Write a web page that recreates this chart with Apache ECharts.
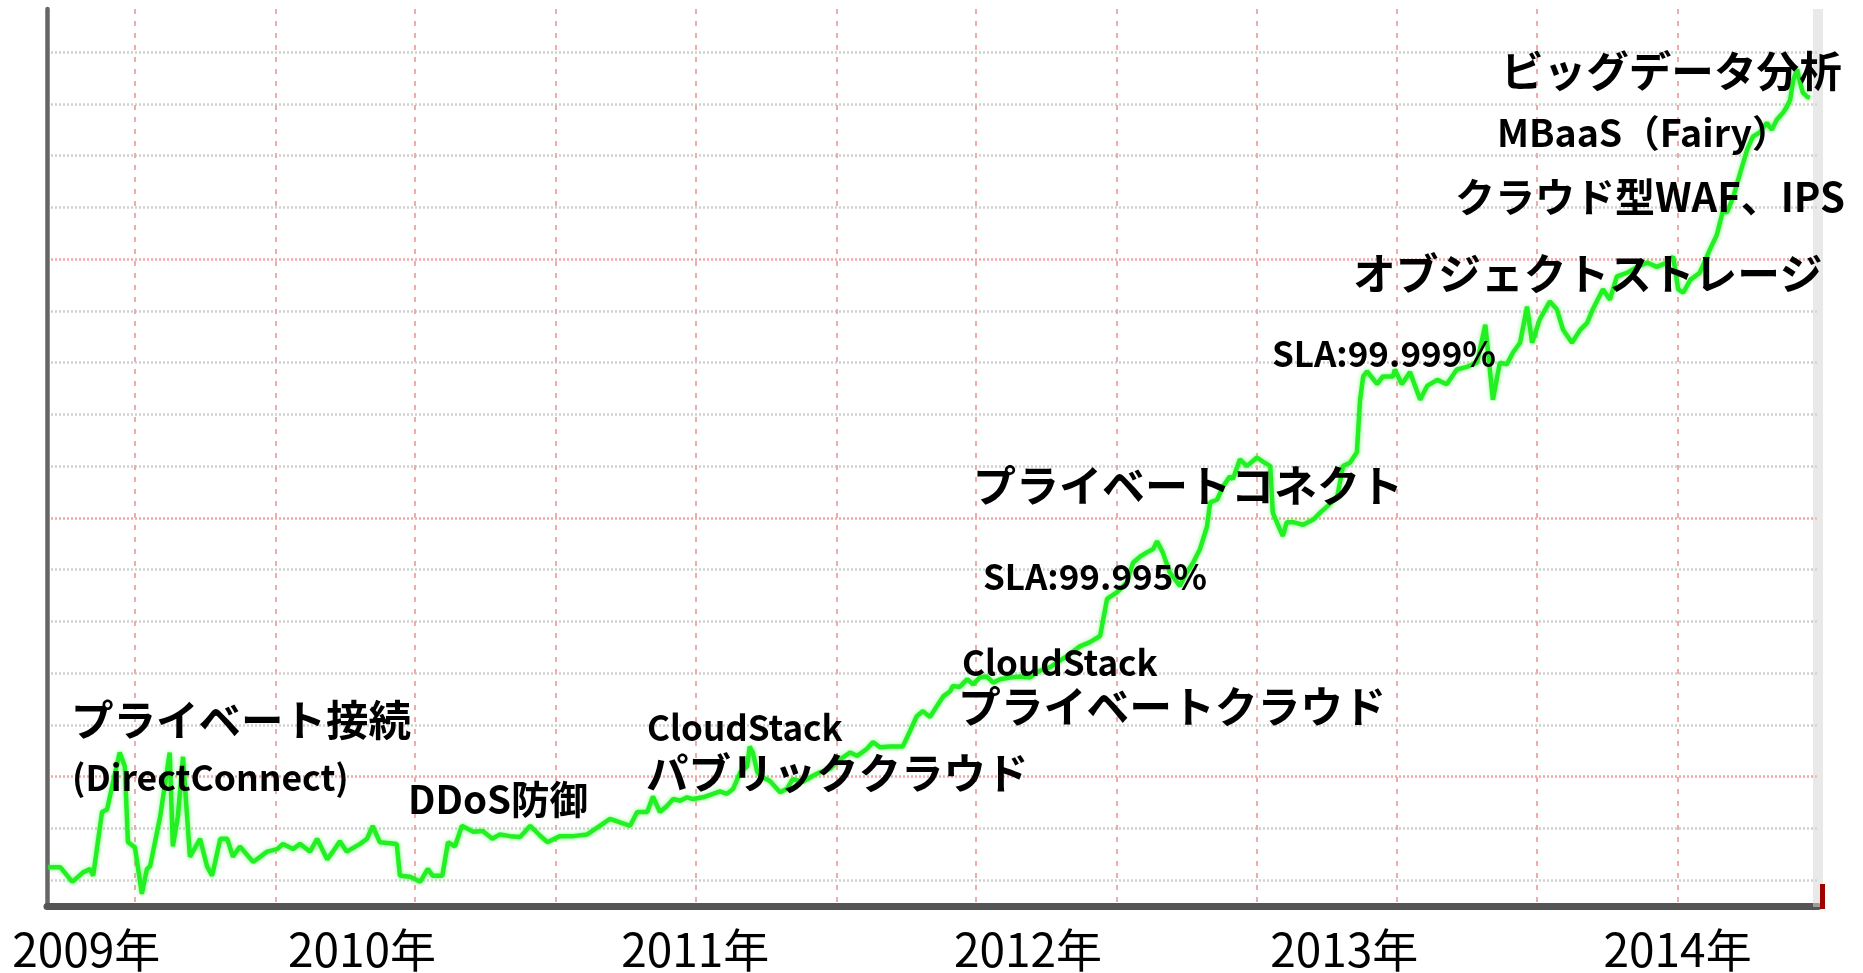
<!DOCTYPE html>
<html>
<head>
<meta charset="utf-8">
<script src="https://cdn.jsdelivr.net/npm/echarts@6/dist/echarts.min.js"></script>
<style>
html,body{margin:0;padding:0;background:#fff;}
#c{width:1863px;height:973px;}
</style>
</head>
<body>
<div id="c"></div>
<script>
// ---- data (x = weeks since start of 2009, y = relative search interest) ----
var weeks = [0.2,2.1,4.0,5.7,6.8,7.3,8.7,9.5,10.3,11.5,12.3,12.8,13.9,15.0,15.8,16.3,17.9,19.4,19.9,20.7,21.5,22.1,22.6,24.2,25.3,26.1,27.4,28.5,29.4,30.5,32.6,34.8,36.4,37.3,38.9,40.0,41.6,42.7,44.3,45.2,46.3,47.4,49.5,50.6,51.5,52.6,55.3,55.8,57.4,59.0,60.2,61.0,62.5,63.4,64.5,65.6,67.4,68.9,70.4,71.6,73.2,74.8,76.4,77.9,79.1,81.1,83.2,85.4,87.4,89.0,90.6,92.2,93.3,94.9,95.8,96.9,98.0,99.0,100.1,101.2,102.1,103.7,105.3,106.4,107.5,108.5,109.6,110.7,111.1,111.6,112.3,113.2,114.3,115.4,115.9,117.0,117.9,119.5,121.1,122.2,123.8,125.4,127.0,128.1,129.6,130.6,131.7,133.3,135.3,136.4,137.5,138.5,139.6,140.7,141.7,142.8,143.2,144.3,145.5,146.4,147.5,148.6,149.6,150.7,152.3,153.8,155.4,156.7,158.6,161.3,163.3,164.9,166.5,167.6,169.2,170.7,171.7,172.8,173.9,174.9,175.5,176.4,177.5,179.1,180.2,181.2,182.3,183.4,183.9,185.0,185.9,187.0,187.5,188.6,189.7,191.3,192.3,193.4,193.8,194.9,195.4,196.0,197.0,198.6,200.2,201.3,202.8,204.0,204.9,206.0,207.1,207.6,208.1,208.7,210.3,211.2,212.8,213.1,214.2,215.5,217.1,218.2,219.8,221.3,222.9,224.5,226.1,227.4,227.8,228.6,229.7,230.8,231.8,232.9,234.0,234.8,236.0,237.6,238.7,239.7,241.1,242.4,243.5,244.4,246.0,247.1,248.2,249.8,251.4,253.0,254.5,256.1,257.1,257.9,258.7,259.8,261.3,262.9,264.0,265.0,265.6,266.6,267.7,268.8,269.7,270.8,271.9,272.7,273.5,274.5,275.1,275.6,276.1,276.7,277.2,277.6,278.3,278.7];
var interest = [4.5,4.5,2.8,3.9,4.3,3.5,10.9,11.2,13.9,17.8,16.2,7.4,6.8,1.4,4.3,4.6,10.4,17.8,6.9,10.4,17.3,10.9,5.7,7.8,4.6,3.5,7.8,7.8,5.7,6.9,5.1,6.3,6.6,7.2,6.6,7.2,6.3,7.8,5.4,6.3,7.5,6.3,7.2,7.8,9.3,7.4,7.2,3.5,3.4,2.8,4.3,3.5,3.5,7.4,6.9,9.3,8.6,8.7,7.8,8.3,8.1,8.0,9.3,8.2,7.4,8.1,8.1,8.3,9.3,10.1,9.7,9.3,10.9,10.9,12.7,10.9,11.6,12.4,12.2,12.6,12.4,12.6,13.0,13.3,13.0,13.6,15.5,16.2,18.5,17.8,15.5,14.9,14.5,13.6,13.2,13.6,14.7,14.4,15.1,15.5,15.9,17.0,17.8,17.4,18.2,19.0,18.4,18.5,18.5,20.2,22.0,22.6,21.9,23.2,24.3,24.9,25.5,25.4,26.3,25.7,26.5,26.6,25.9,26.3,26.5,26.6,26.5,27.2,27.7,29.0,30.1,30.6,31.3,35.6,36.4,37.5,39.8,40.5,41.0,41.4,42.3,41.0,38.7,37.1,38.7,39.8,41.4,44.0,46.8,47.1,48.6,49.8,49.5,51.8,51.0,52.0,51.5,51.0,45.6,43.7,42.9,44.5,44.5,44.2,44.8,45.6,46.6,47.5,51.0,51.4,52.6,58.7,61.4,62.0,60.5,61.4,61.4,62.2,60.5,61.9,58.7,60.3,61.0,60.5,62.2,62.5,63.0,67.4,64.5,58.7,63.0,62.8,64.2,65.3,69.5,65.3,68.0,70.1,69.2,66.8,65.3,66.8,67.6,69.2,71.5,70.3,73.0,73.4,74.1,74.6,74.1,74.6,75.3,71.5,71.1,72.6,73.4,76.1,77.8,80.7,80.4,82.2,85.0,87.7,89.2,89.7,90.8,90.0,91.2,92.0,92.7,93.5,95.8,97.0,95.4,94.3,93.8,93.7];
var yearLabels = ['2009年','2010年','2011年','2012年','2013年','2014年'];
var yearLabelWeeks = [6.2,49.8,102.5,155.1,205.1,257.8];
var gridWeeks = [13.9,36.1,58.2,80.4,102.6,124.8,146.9,169.1,191.3,213.4,235.6,257.8];
var gridLevels = [3,9,15,21,27,33,39,45,51,57,63,69,75,81,87,93,99];
var annotations = ['プライベート接続','(DirectConnect)','DDoS防御','CloudStack','パブリッククラウド','CloudStack','プライベートクラウド','SLA:99.995%','プライベートコネクト','SLA:99.999%','オブジェクトストレージ','クラウド型WAF、IPS','MBaaS（Fairy）','ビッグデータ分析'];

// ---- layout (pixels) for the annotation texts: [left, centerY, fontSize] ----
var annotLayout = [
  [71,720,42.5],[72,778,35.5],[408,799,38.5],[647,728,35],[646,773,42.5],[962,663,35],
  [958,707,42.8],[983,577,35],[973,486,43],[1272,354,35],[1353,274,42.7],[1455,197,40],
  [1497,133,37.5],[1501,71,42.6]
];

var FONT = '"Noto Sans CJK JP","Noto Sans CJK SC",sans-serif';
var seriesData = weeks.map(function(w,i){return [w, interest[i]];});

var graphics = annotations.map(function(t,i){
  var L = annotLayout[i];
  return {
    type:'text', x:L[0], y:L[1], z:100,
    style:{text:t, font:'bold '+L[2]+'px '+FONT, fill:'#000',
      align:'left', verticalAlign:'middle', textAlign:'left', textVerticalAlign:'middle'}
  };
});
graphics.push({type:'rect', shape:{x:1813,y:9,width:10,height:898}, style:{fill:'rgba(215,215,215,0.55)'}, z:5});
graphics.push({type:'rect', shape:{x:1820,y:884,width:5,height:25}, style:{fill:'#a00000'}, z:6});

var chart = echarts.init(document.getElementById('c'), null, {renderer:'canvas'});
chart.setOption({
  animation:false,
  backgroundColor:'#ffffff',
  grid:{left:47, right:45, top:9, bottom:66, containLabel:false},
  xAxis:{
    type:'value', min:0, max:280,
    axisLine:{show:true, onZero:false, lineStyle:{color:'#555555', width:7}},
    axisTick:{show:false, customValues:gridWeeks},
    axisLabel:{show:true, customValues:yearLabelWeeks, margin:21,
      fontFamily:FONT, fontSize:46, lineHeight:46, color:'#000',
      formatter:function(v){
        for (var i=0;i<yearLabelWeeks.length;i++){ if (Math.abs(yearLabelWeeks[i]-v)<0.01) return yearLabels[i]; }
        return '';
      }},
    splitLine:{show:true, lineStyle:{color:'#f3aaaa', width:2, type:[5,7]}}
  },
  yAxis:{
    type:'value', min:0, max:104,
    axisLine:{show:true, onZero:false, lineStyle:{color:'#666666', width:4.5}},
    axisTick:{show:false, customValues:gridLevels},
    axisLabel:{show:false},
    splitLine:{show:true, lineStyle:{color:['#cfcfcf','#cfcfcf','#f2a5a5','#cfcfcf','#cfcfcf'], width:2.5, type:[2,2]}}
  },
  series:[{
    type:'line', data:seriesData, showSymbol:false, symbol:'none', smooth:false,
    lineStyle:{color:'#22f022', width:4.5, shadowColor:'rgba(40,255,40,0.6)', shadowBlur:4},
    z:10
  }],
  graphic:graphics
});
</script>
</body>
</html>
